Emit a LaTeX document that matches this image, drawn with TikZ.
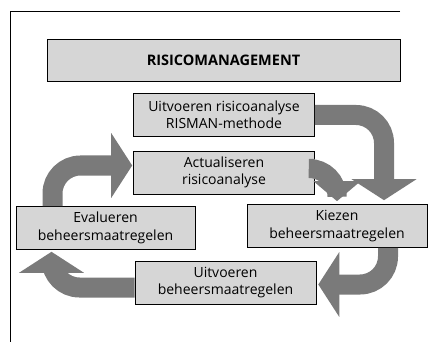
\documentclass[tikz,border=0pt]{standalone}
\usepackage{fontspec}
\setmainfont{Open Sans}
\usetikzlibrary{calc,arrows.meta}
\tikzset{
	blok/.style={draw=black, line width=0.6pt, fill=black!16, inner sep=0pt, align=center,
		minimum width=181pt, minimum height=43pt, font=\fontsize{14}{17.5}\selectfont},
	pijl/.style={line width=20pt, draw=black!52, rounded corners=28pt,
		-{Triangle[length=21pt,width=64pt]}}
}

\begin{document}
\begin{tikzpicture}[x=1pt,y=-1pt]
			%%%%% START %%%%%
			
			\useasboundingbox (0,0) rectangle (431,342);
			\draw[line width=0.8pt] (400,11) -- (10,11) -- (10,342);
			
			\node[blok, minimum width=353pt, minimum height=42pt, font=\fontsize{14.5}{16}\selectfont\bfseries] (mgmt) at (223.5,60) {RISICOMANAGEMENT};
			
			\node[blok] (risman) at (224,115) {Uitvoeren risicoanalyse\\RISMAN-methode};
			\node[blok] (actual) at (224,172.5) {Actualiseren\\risicoanalyse};
			\node[blok, minimum width=179pt] (evalueren) at (105.5,228) {Evalueren\\beheersmaatregelen};
			\node[blok, minimum width=180pt] (kiezen) at (337,226) {Kiezen\\beheersmaatregelen};
			\node[blok] (uitvoeren) at (225.5,282.5) {Uitvoeren\\beheersmaatregelen};
			
			\draw[pijl] (risman.east) -| ($(kiezen.north)+(47,-4)$);
			\draw[pijl, line width=19pt, -{Triangle[length=20pt,width=46pt]}] ($(actual.east)+(0,-4)$) -| ($(kiezen.north)+(0,-3)$);
			\draw[pijl] ($(kiezen.south)+(51,0)$) |- ($(uitvoeren.east)+(2,2)$);
			\draw[pijl] ($(uitvoeren.west)+(0,5)$) -| ($(evalueren.south)+(-54,2)$);
			\draw[pijl] ($(evalueren.north)+(-53,0)$) |- ($(actual.west)+(-1,-7)$);
			
			%%%%% END %%%%%
\end{tikzpicture}
\end{document}
